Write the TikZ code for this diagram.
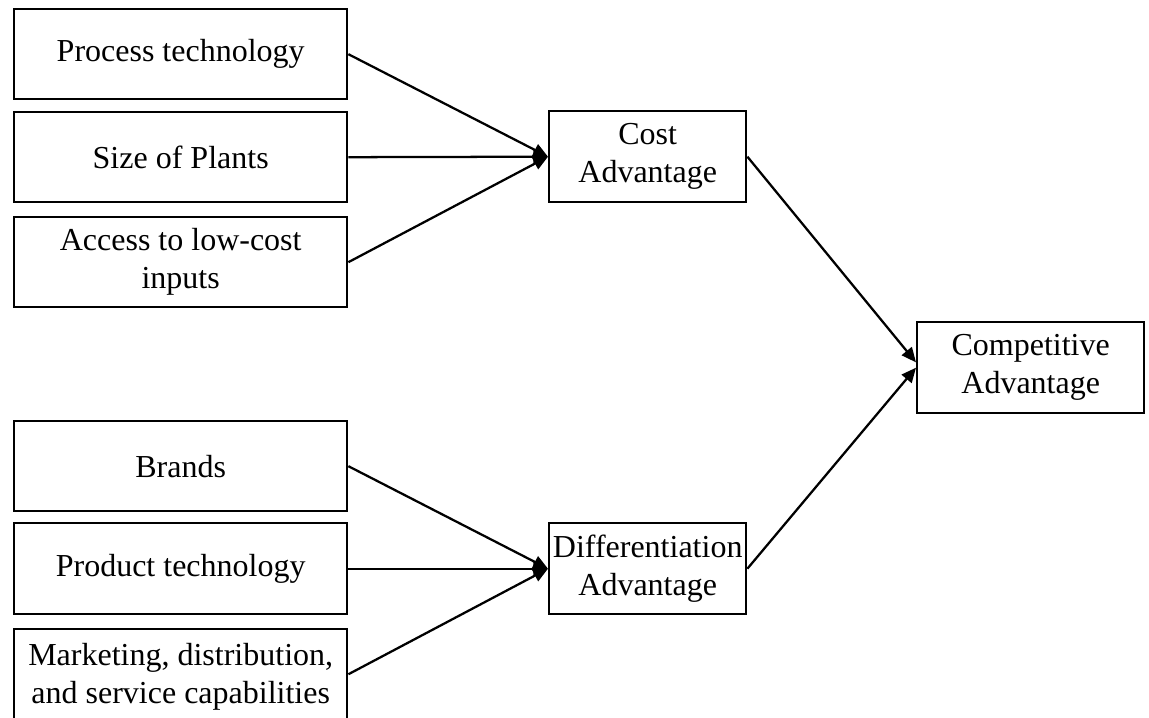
\documentclass[tikz,border=0pt]{standalone}
\usepackage{fontspec}
\setmainfont{Liberation Serif}
\usetikzlibrary{arrows.meta}
\begin{document}
\begin{tikzpicture}[x=0.375pt,y=-0.375pt,
  box/.style={draw, line width=0.9pt, inner sep=0pt, align=center,
    font=\fontsize{12pt}{14.25pt}\selectfont, anchor=north west},
  link/.style={line width=0.85pt, -{Triangle[length=5.5pt,width=4.8pt]}}]
\useasboundingbox (0,0) rectangle (1149,718);
\clip (0,0) rectangle (1149,718);
% source factors, cost side
\node[box, minimum width=333*0.375pt, minimum height=90*0.375pt] (pt) at (13,8) {Process technology};
\node[box, minimum width=333*0.375pt, minimum height=90*0.375pt] (sp) at (13,111) {Size of Plants};
\node[box, minimum width=333*0.375pt, minimum height=90*0.375pt] (al) at (13,216) {Access to low-cost\\inputs};
% source factors, differentiation side
\node[box, minimum width=333*0.375pt, minimum height=90*0.375pt] (br) at (13,420) {Brands};
\node[box, minimum width=333*0.375pt, minimum height=91*0.375pt] (prt) at (13,522) {Product technology};
\node[box, minimum width=333*0.375pt, minimum height=96*0.375pt] (md) at (13,628) {Marketing, distribution,\\and service capabilities};
% intermediate advantages
\node[box, minimum width=197*0.375pt, minimum height=91*0.375pt] (ca) at (548,110) {Cost\\Advantage};
\node[box, minimum width=197*0.375pt, minimum height=91*0.375pt] (da) at (548,522) {Differentiation\\Advantage};
% result
\node[box, minimum width=227*0.375pt, minimum height=91*0.375pt] (cpa) at (916,321) {Competitive\\Advantage};
% connectors
\draw[link] (pt.east) -- (ca.west);
\draw[link] (sp.east) -- (ca.west);
\draw[link] (al.east) -- (ca.west);
\draw[link] (br.east) -- (da.west);
\draw[link] (prt.east) -- (da.west);
\draw[link] ([yshift=1.1pt]md.east) -- (da.west);
\draw[link] (ca.east) -- ([yshift=2pt]cpa.west);
\draw[link] (da.east) -- (cpa.west);
\end{tikzpicture}
\end{document}
